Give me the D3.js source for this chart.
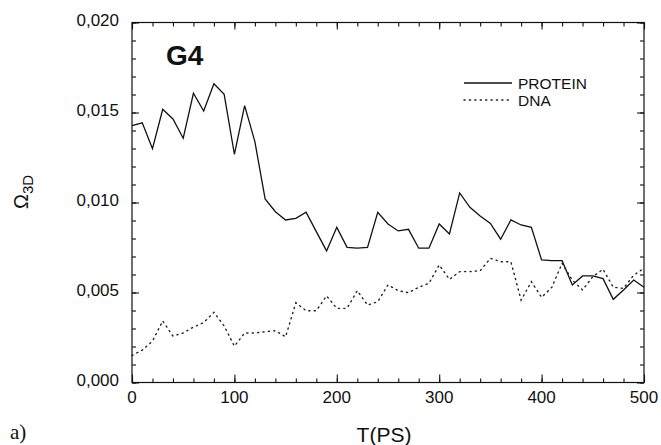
<!DOCTYPE html>
<html>
<head>
<meta charset="utf-8">
<script src="https://cdn.jsdelivr.net/npm/d3@7"></script>
<style>
  body { margin: 0; background: #fff; }
  text { font-family: "Liberation Sans", Arial, Helvetica, sans-serif; fill: #111; }
  .axis path, .axis line { stroke: #111; stroke-width: 1.1; }
</style>
</head>
<body>
<div id="chart"></div>
<script>
var width = 661, height = 445;

// time in ps, one sample every 10 ps
var times = d3.range(0, 501, 10);

var protein = [0.01427, 0.01443, 0.01299, 0.01518, 0.01464, 0.01357, 0.01607, 0.01508, 0.0166, 0.01601,
  0.01268, 0.01538, 0.01338, 0.0102, 0.00949, 0.00903, 0.00912, 0.00946, 0.00838, 0.00731,
  0.00862, 0.00751, 0.00746, 0.00751, 0.00946, 0.00881, 0.00842, 0.00851, 0.00746, 0.00746,
  0.00881, 0.00825, 0.01053, 0.00973, 0.00925, 0.00884, 0.00796, 0.00903, 0.00875, 0.00862,
  0.00681, 0.00677, 0.00677, 0.00542, 0.00592, 0.00592, 0.00577, 0.00462, 0.00514, 0.00569,
  0.00529];

var dna = [0.0015, 0.0018, 0.0023, 0.00342, 0.00258, 0.00275, 0.00308, 0.00333, 0.0039, 0.00314,
  0.00202, 0.00275, 0.00275, 0.00282, 0.00288, 0.00254, 0.00443, 0.00399, 0.00399, 0.00481,
  0.00412, 0.00412, 0.0051, 0.0043, 0.00449, 0.00542, 0.0051, 0.00499, 0.00529, 0.00551,
  0.00653, 0.00573, 0.00616, 0.00616, 0.00621, 0.0069, 0.00671, 0.00671, 0.00458, 0.0056,
  0.00473, 0.00529, 0.00662, 0.00569, 0.00514, 0.00588, 0.00629, 0.00529, 0.00523, 0.00597,
  0.00634];

var seriesNames = ["PROTEIN", "DNA"];

var xMajor = [0, 100, 200, 300, 400, 500];
var xMinor = d3.range(0, 501, 20);
var yMajor = [0, 0.005, 0.010, 0.015, 0.020];
var yMinor = d3.range(0, 0.0201, 0.001);

var plot = {left: 132, right: 644, top: 22.5, bottom: 382.5};

var x = d3.scaleLinear().domain([0, 500]).range([plot.left, plot.right]);
var y = d3.scaleLinear().domain([0, 0.020]).range([plot.bottom, plot.top]);

var fmtY = d3.formatLocale({decimal: ",", thousands: ".", grouping: [3], currency: ["", ""]}).format(".3f");

var svg = d3.select("#chart").append("svg")
  .attr("width", width)
  .attr("height", height);

// frame
svg.append("rect")
  .attr("x", plot.left).attr("y", plot.top)
  .attr("width", plot.right - plot.left).attr("height", plot.bottom - plot.top)
  .style("fill", "none").style("stroke", "#111").style("stroke-width", 1.2);

function tickAxis(axis, transform, size, values) {
  svg.append("g")
    .attr("class", "axis")
    .attr("transform", transform)
    .call(axis.tickValues(values).tickSize(size).tickFormat(""))
    .call(g => g.select(".domain").remove());
}

// inward ticks on all four sides
tickAxis(d3.axisBottom(x), "translate(0," + plot.bottom + ")", -4, xMinor);
tickAxis(d3.axisBottom(x), "translate(0," + plot.bottom + ")", -8, xMajor);
tickAxis(d3.axisTop(x), "translate(0," + plot.top + ")", -4, xMinor);
tickAxis(d3.axisTop(x), "translate(0," + plot.top + ")", -7, xMajor);
tickAxis(d3.axisLeft(y), "translate(" + plot.left + ",0)", -4, yMinor);
tickAxis(d3.axisLeft(y), "translate(" + plot.left + ",0)", -7, yMajor);
tickAxis(d3.axisRight(y), "translate(" + plot.right + ",0)", -4, yMinor);
tickAxis(d3.axisRight(y), "translate(" + plot.right + ",0)", -7, yMajor);

// tick labels
svg.append("g").selectAll("text")
  .data(xMajor).enter().append("text")
  .attr("x", d => x(d))
  .attr("y", 403)
  .attr("text-anchor", "middle")
  .style("font-size", "17px")
  .text(d => d);

svg.append("g").selectAll("text")
  .data(yMajor).enter().append("text")
  .attr("x", 119)
  .attr("y", d => y(d) - 2)
  .attr("dy", "0.35em")
  .attr("text-anchor", "end")
  .style("font-size", "17px")
  .text(d => fmtY(d));

// lines
var rows = times.map((t, i) => ({t: t, p: protein[i], d: dna[i]}));

svg.append("path")
  .datum(rows)
  .attr("d", d3.line().x(d => x(d.t)).y(d => y(d.p)))
  .style("fill", "none").style("stroke", "#111").style("stroke-width", 1.3);

svg.append("path")
  .datum(rows)
  .attr("d", d3.line().x(d => x(d.t)).y(d => y(d.d)))
  .style("fill", "none").style("stroke", "#222").style("stroke-width", 1.4)
  .style("stroke-dasharray", "1.2,4.2").style("stroke-linecap", "round");

// legend
var legendY = [83, 100];
svg.append("line")
  .attr("x1", 464).attr("x2", 512).attr("y1", legendY[0]).attr("y2", legendY[0])
  .style("stroke", "#111").style("stroke-width", 1.3);
svg.append("line")
  .attr("x1", 464).attr("x2", 512).attr("y1", legendY[1]).attr("y2", legendY[1])
  .style("stroke", "#222").style("stroke-width", 1.4)
  .style("stroke-dasharray", "1.2,4.2").style("stroke-linecap", "round");

svg.append("g").selectAll("text")
  .data(seriesNames).enter().append("text")
  .attr("x", 518)
  .attr("y", (d, i) => legendY[i] + 5.5)
  .style("font-size", "15.5px")
  .text(d => d);

// panel title
svg.append("text")
  .attr("x", 166).attr("y", 65)
  .style("font-size", "28px").style("font-weight", "bold")
  .text("G4");

// axis titles
svg.append("text")
  .attr("x", 384).attr("y", 442)
  .attr("text-anchor", "middle")
  .style("font-size", "21px")
  .text("T(PS)");

var ylab = svg.append("text")
  .attr("transform", "translate(28,192) rotate(-90)")
  .attr("text-anchor", "middle")
  .style("font-size", "20px");
ylab.append("tspan").text("Ω");
ylab.append("tspan").attr("dy", 5).style("font-size", "15px").text("3D");

svg.append("text")
  .attr("x", 10).attr("y", 439)
  .style("font-family", "'Liberation Serif', 'Times New Roman', serif")
  .style("font-size", "21px")
  .text("a)");
</script>
</body>
</html>
